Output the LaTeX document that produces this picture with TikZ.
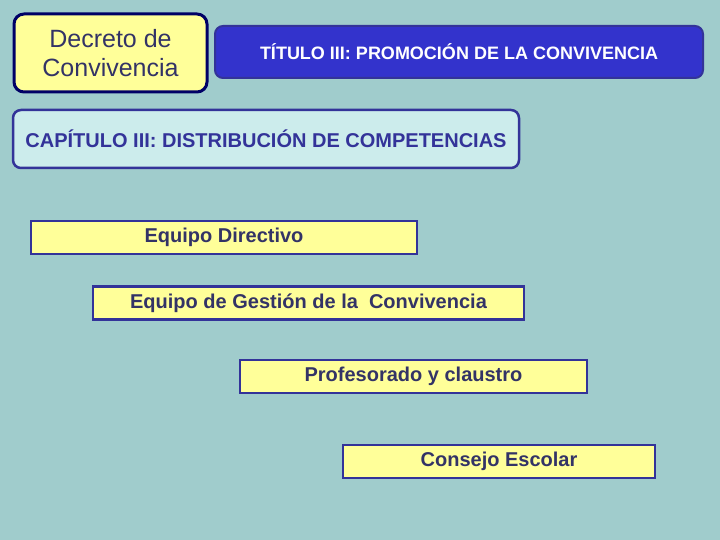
\documentclass[tikz,border=0pt]{standalone}
\usepackage{fontspec}
\setmainfont{Liberation Sans}
\usepackage{tikz}
\usetikzlibrary{shapes,shapes.misc}
\definecolor{fondo}{RGB}{160,204,204}
\definecolor{amarillo}{RGB}{255,255,153}
\definecolor{marino}{RGB}{0,0,102}
\definecolor{borde}{RGB}{51,51,153}
\definecolor{letra}{RGB}{51,51,102}
\definecolor{azul}{RGB}{51,51,204}
\definecolor{celeste}{RGB}{204,236,236}
\begin{document}
\begin{tikzpicture}[x=1pt,y=-1pt,
      every node/.append style={inner sep=0pt,outer sep=0pt,align=center},
      organo/.style={draw=borde,fill=amarillo,line width=2.5pt,minimum height=33pt,
        text=letra,font=\fontsize{20}{24}\selectfont\bfseries}]
    \tikzstyle{titulo} = [draw=borde,fill=azul,rounded corners=8pt,line width=2pt,text=white,font=\fontsize{18}{21}\selectfont\bfseries]
    \fill [fondo] (0,0) rectangle (720,540);
    \useasboundingbox (0,0) rectangle (720,540);
    \node (decreto) [draw=marino,fill=amarillo,rounded corners=10pt,line width=3pt,
      minimum width=193pt,minimum height=78pt,text=letra,
      font=\fontsize{25}{29}\selectfont] at (110.5,53) {Decreto de\\Convivencia};
    \node (tituloIII) [titulo,minimum width=488pt,minimum height=52pt] at (459,52)
      {T\'ITULO III: PROMOCI\'ON DE LA CONVIVENCIA};
    \node (capIII) [draw=borde,fill=celeste,rounded corners=8pt,line width=2.5pt,
      minimum width=506pt,minimum height=58pt,text=borde,
      font=\fontsize{20}{24}\selectfont\bfseries] at (266,139)
      {CAP\'ITULO III: DISTRIBUCI\'ON DE COMPETENCIAS};
    \node (directivo) [organo,minimum width=386pt] at (224,237.5) {Equipo Directivo};
    \node (gestion) [organo,minimum width=431pt] at (308.5,303) {Equipo de Gesti\'on de la \ Convivencia};
    \node (claustro) [organo,minimum width=347pt] at (413.5,376.5) {Profesorado y claustro};
    \node (consejo) [organo,minimum width=312pt] at (499,461.5) {Consejo Escolar};
  \end{tikzpicture}
\end{document}
